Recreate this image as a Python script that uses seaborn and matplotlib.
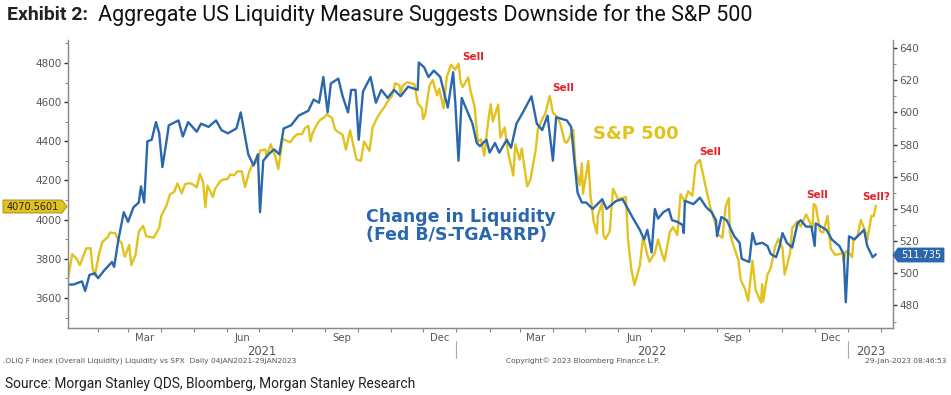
import matplotlib
matplotlib.use("Agg")
import matplotlib.pyplot as plt
import matplotlib.dates as mdates
from matplotlib.patches import Polygon
from matplotlib.ticker import MultipleLocator
import pandas as pd
import seaborn as sns

# S&P 500 (left axis)
spx_dates = [
    "2021-01-04", "2021-01-08", "2021-01-12", "2021-01-15", "2021-01-21", "2021-01-25", "2021-01-27", "2021-01-29",
    "2021-02-02", "2021-02-05", "2021-02-10", "2021-02-12", "2021-02-17", "2021-02-19", "2021-02-23", "2021-02-25", "2021-02-26",
    "2021-03-02", "2021-03-04", "2021-03-08", "2021-03-11", "2021-03-15", "2021-03-18", "2021-03-23", "2021-03-25", "2021-03-30",
    "2021-04-01", "2021-04-06", "2021-04-09", "2021-04-13", "2021-04-16", "2021-04-20", "2021-04-23", "2021-04-27", "2021-04-30",
    "2021-05-04", "2021-05-07", "2021-05-10", "2021-05-12", "2021-05-14", "2021-05-19", "2021-05-21", "2021-05-26", "2021-05-28",
    "2021-06-02", "2021-06-04", "2021-06-08", "2021-06-11", "2021-06-15", "2021-06-18", "2021-06-22", "2021-06-25", "2021-06-30",
    "2021-07-02", "2021-07-07", "2021-07-08", "2021-07-12", "2021-07-16", "2021-07-19", "2021-07-23", "2021-07-27", "2021-07-30",
    "2021-08-03", "2021-08-06", "2021-08-10", "2021-08-13", "2021-08-16", "2021-08-18", "2021-08-20", "2021-08-24", "2021-08-27", "2021-08-31",
    "2021-09-02", "2021-09-07", "2021-09-10", "2021-09-14", "2021-09-17", "2021-09-20", "2021-09-24", "2021-09-28", "2021-09-30",
    "2021-10-04", "2021-10-07", "2021-10-12", "2021-10-15", "2021-10-19", "2021-10-22", "2021-10-26", "2021-10-29",
    "2021-11-02", "2021-11-05", "2021-11-09", "2021-11-10", "2021-11-12", "2021-11-16", "2021-11-19", "2021-11-23", "2021-11-26", "2021-11-30",
    "2021-12-01", "2021-12-03", "2021-12-07", "2021-12-10", "2021-12-14", "2021-12-16", "2021-12-20", "2021-12-23", "2021-12-27", "2021-12-31",
    "2022-01-03", "2022-01-05", "2022-01-07", "2022-01-12", "2022-01-14", "2022-01-18", "2022-01-21", "2022-01-24", "2022-01-27", "2022-01-31",
    "2022-02-02", "2022-02-04", "2022-02-09", "2022-02-11", "2022-02-15", "2022-02-18", "2022-02-23", "2022-02-25",
    "2022-03-01", "2022-03-03", "2022-03-08", "2022-03-11", "2022-03-16", "2022-03-18", "2022-03-22", "2022-03-25", "2022-03-29",
    "2022-04-01", "2022-04-05", "2022-04-08", "2022-04-12", "2022-04-14", "2022-04-20", "2022-04-22", "2022-04-26", "2022-04-28", "2022-04-29",
    "2022-05-04", "2022-05-06", "2022-05-09", "2022-05-12", "2022-05-13", "2022-05-17", "2022-05-18", "2022-05-20", "2022-05-24", "2022-05-27",
    "2022-06-01", "2022-06-03", "2022-06-08", "2022-06-10", "2022-06-13", "2022-06-16", "2022-06-21", "2022-06-24", "2022-06-28", "2022-06-30",
    "2022-07-05", "2022-07-08", "2022-07-12", "2022-07-14", "2022-07-19", "2022-07-22", "2022-07-26", "2022-07-29",
    "2022-08-02", "2022-08-05", "2022-08-09", "2022-08-12", "2022-08-16", "2022-08-19", "2022-08-23", "2022-08-26", "2022-08-30",
    "2022-09-02", "2022-09-06", "2022-09-09", "2022-09-12", "2022-09-13", "2022-09-16", "2022-09-21", "2022-09-23", "2022-09-27", "2022-09-30",
    "2022-10-04", "2022-10-07", "2022-10-12", "2022-10-13", "2022-10-14", "2022-10-18", "2022-10-21", "2022-10-25", "2022-10-28",
    "2022-11-01", "2022-11-03", "2022-11-08", "2022-11-10", "2022-11-15", "2022-11-18", "2022-11-23", "2022-11-29", "2022-11-30",
    "2022-12-02", "2022-12-06", "2022-12-09", "2022-12-13", "2022-12-16", "2022-12-20", "2022-12-22", "2022-12-27", "2022-12-28", "2022-12-30",
    "2023-01-03", "2023-01-05", "2023-01-06", "2023-01-10", "2023-01-13", "2023-01-18", "2023-01-19", "2023-01-23", "2023-01-25", "2023-01-27",
]
spx_values = [
    3700, 3824, 3801, 3768, 3853, 3855, 3750, 3714,
    3826, 3886, 3910, 3934, 3931, 3906, 3881, 3829, 3811,
    3870, 3768, 3821, 3939, 3968, 3915, 3910, 3909, 3958,
    4020, 4074, 4129, 4142, 4185, 4135, 4180, 4187, 4181,
    4165, 4233, 4189, 4063, 4174, 4116, 4156, 4196, 4204,
    4208, 4230, 4227, 4247, 4246, 4166, 4246, 4281, 4298,
    4352, 4358, 4320, 4385, 4327, 4258, 4412, 4402, 4395,
    4423, 4437, 4436, 4468, 4479, 4400, 4442, 4486, 4509, 4523,
    4537, 4520, 4459, 4443, 4433, 4358, 4455, 4353, 4307,
    4300, 4399, 4351, 4471, 4519, 4545, 4575, 4605,
    4631, 4697, 4685, 4646, 4683, 4701, 4698, 4690, 4595, 4567,
    4513, 4538, 4686, 4712, 4634, 4668, 4568, 4725, 4791, 4766,
    4796, 4701, 4677, 4726, 4663, 4577, 4398, 4410, 4326, 4516,
    4589, 4501, 4587, 4419, 4471, 4349, 4225, 4385,
    4306, 4363, 4170, 4204, 4358, 4463, 4512, 4543, 4631,
    4546, 4525, 4488, 4397, 4393, 4459, 4272, 4176, 4287, 4132,
    4300, 4123, 3991, 3930, 4023, 4088, 3923, 3901, 3941, 4158,
    4101, 4109, 4115, 3901, 3750, 3667, 3765, 3912, 3821, 3785,
    3831, 3899, 3819, 3790, 3937, 3962, 3921, 4130,
    4091, 4145, 4122, 4280, 4305, 4228, 4128, 4058, 3986,
    3924, 3908, 4067, 4110, 3932, 3873, 3790, 3693, 3647, 3586,
    3791, 3640, 3577, 3670, 3583, 3720, 3752, 3859, 3901,
    3856, 3720, 3828, 3956, 3992, 3965, 4027, 3958, 4080,
    4072, 3941, 3934, 4019, 3852, 3821, 3822, 3829, 3783, 3840,
    3825, 3808, 3895, 3919, 3999, 3928, 3898, 4020, 4017, 4070.5601,
]

# Change in liquidity, Fed B/S - TGA - RRP (right axis)
liq_dates = [
    "2021-01-04", "2021-01-09", "2021-01-17", "2021-01-20", "2021-01-24", "2021-01-29", "2021-02-01", "2021-02-07",
    "2021-02-14", "2021-02-16", "2021-02-20", "2021-02-25", "2021-03-01", "2021-03-06", "2021-03-11", "2021-03-13",
    "2021-03-16", "2021-03-19", "2021-03-23", "2021-03-27", "2021-03-30", "2021-04-02", "2021-04-06", "2021-04-08",
    "2021-04-17", "2021-04-21", "2021-04-26", "2021-05-04", "2021-05-08", "2021-05-15", "2021-05-22", "2021-05-27",
    "2021-06-02", "2021-06-10", "2021-06-14", "2021-06-17", "2021-06-21", "2021-06-26", "2021-06-30", "2021-07-02",
    "2021-07-05", "2021-07-10", "2021-07-15", "2021-07-20", "2021-07-24", "2021-07-31", "2021-08-07", "2021-08-16",
    "2021-08-21", "2021-08-26", "2021-08-30", "2021-09-03", "2021-09-06", "2021-09-13", "2021-09-17", "2021-09-22",
    "2021-09-25", "2021-09-29", "2021-10-02", "2021-10-06", "2021-10-13", "2021-10-18", "2021-10-23", "2021-10-29",
    "2021-11-04", "2021-11-10", "2021-11-17", "2021-11-26", "2021-11-27", "2021-12-02", "2021-12-06", "2021-12-11",
    "2021-12-17", "2021-12-24", "2021-12-29", "2021-12-31", "2022-01-03", "2022-01-06", "2022-01-11", "2022-01-16",
    "2022-01-20", "2022-01-23", "2022-01-29", "2022-02-01", "2022-02-06", "2022-02-10", "2022-02-17", "2022-02-21",
    "2022-02-26", "2022-03-04", "2022-03-12", "2022-03-17", "2022-03-22", "2022-03-27", "2022-04-01", "2022-04-04",
    "2022-04-14", "2022-04-18", "2022-04-21", "2022-04-24", "2022-04-28", "2022-05-02", "2022-05-08", "2022-05-17",
    "2022-05-21", "2022-05-30", "2022-06-05", "2022-06-14", "2022-06-21", "2022-06-25", "2022-06-28", "2022-07-02",
    "2022-07-05", "2022-07-08", "2022-07-13", "2022-07-18", "2022-07-21", "2022-07-26", "2022-07-31", "2022-08-01",
    "2022-08-02", "2022-08-10", "2022-08-16", "2022-08-22", "2022-08-27", "2022-08-31", "2022-09-01", "2022-09-05",
    "2022-09-10", "2022-09-17", "2022-09-22", "2022-09-24", "2022-10-01", "2022-10-04", "2022-10-07", "2022-10-13",
    "2022-10-18", "2022-10-21", "2022-10-26", "2022-10-29", "2022-11-01", "2022-11-05", "2022-11-10", "2022-11-15",
    "2022-11-18", "2022-11-23", "2022-11-28", "2022-12-01", "2022-12-02", "2022-12-07", "2022-12-12", "2022-12-17",
    "2022-12-24", "2022-12-28", "2022-12-30", "2023-01-02", "2023-01-07", "2023-01-13", "2023-01-16", "2023-01-19",
    "2023-01-24", "2023-01-27",
]
liq_values = [
    493, 493, 495, 489, 499, 500, 497, 502,
    507, 504, 521, 538, 532, 541, 544, 554,
    544, 582, 583, 594, 587, 566, 583, 592,
    595, 585, 594, 588, 593, 591, 595, 589,
    587, 590, 600, 589, 574, 567, 574, 538,
    570, 574, 577, 574, 590, 592, 598, 601,
    608, 606, 622, 600, 618, 621, 610, 600,
    614, 614, 583, 613, 622, 606, 614, 609,
    614, 610, 616, 614, 631, 628, 622, 626,
    622, 603, 625, 606, 570, 609, 601, 593,
    581, 579, 583, 575, 581, 575, 583, 578,
    593, 600, 610, 593, 589, 598, 570, 597,
    595, 591, 570, 550, 544, 544, 540, 546,
    540, 545, 546, 535, 527, 521, 527, 513,
    540, 534, 538, 540, 533, 532, 530, 525,
    545, 543, 547, 541, 538, 533, 523, 535,
    533, 523, 519, 509, 507, 525, 518, 519,
    517, 512, 510, 516, 525, 519, 516, 531,
    533, 529, 529, 517, 531, 529, 527, 521,
    517, 512, 482, 523, 521, 525, 527, 517,
    510, 511.735,
]

spx = pd.DataFrame({"date": pd.to_datetime(spx_dates), "value": spx_values})
liq = pd.DataFrame({"date": pd.to_datetime(liq_dates), "value": liq_values})

YELLOW = "#E2C21E"
BLUE = "#2A67AD"
RED = "#E8202A"
GREY = "#555555"

sns.set_style("white")
plt.rcParams["font.family"] = ["DejaVu Sans"]

fig = plt.figure(figsize=(9.51, 3.95), dpi=100)
ax = fig.add_axes([68 / 951, 1 - 328 / 395, (893 - 68) / 951, (328 - 40) / 395])
ax2 = ax.twinx()

sns.lineplot(data=spx, x="date", y="value", ax=ax, color=YELLOW, lw=1.7)
sns.lineplot(data=liq, x="date", y="value", ax=ax2, color=BLUE, lw=1.7)

ax.set_xlim(pd.Timestamp("2021-01-04"), pd.Timestamp("2023-02-12"))
ax.set_ylim(3447, 4917)
ax2.set_ylim(466, 645)

for a in (ax, ax2):
    a.set_xlabel("")
    a.set_ylabel("")
    a.spines["top"].set_visible(False)
    for s in ("left", "right", "bottom"):
        a.spines[s].set_color("#8a8a8a")
        a.spines[s].set_linewidth(0.9)

ax.set_yticks(range(3600, 4801, 200))
ax.yaxis.set_minor_locator(MultipleLocator(100))
ax2.set_yticks(range(480, 641, 20))
ax2.yaxis.set_minor_locator(MultipleLocator(10))

ax.tick_params(axis="y", which="major", direction="out", length=3, width=1, color="#333333",
               labelsize=7.5, labelcolor=GREY, pad=1.5, left=True)
ax.tick_params(axis="y", which="minor", direction="out", length=2, width=0.7, color="#888888", left=True)
ax2.tick_params(axis="y", which="major", direction="out", length=3, width=1, color="#333333",
                labelsize=7.5, labelcolor=GREY, pad=1.5, right=True)
ax2.tick_params(axis="y", which="minor", direction="out", length=2, width=0.7, color="#888888", right=True)

# monthly ticks, labels placed by hand in the middle of each month
months = pd.date_range("2021-02-01", "2023-02-01", freq="MS")
ax.set_xticks(months)
ax.set_xticklabels([])
ax.tick_params(axis="x", which="major", direction="out", length=3, width=0.8, color="#888888", bottom=True)
ax.xaxis.set_minor_locator(mdates.MonthLocator(bymonthday=1))
ax.tick_params(axis="x", which="minor", length=0)

xtr = ax.get_xaxis_transform()
for m in pd.date_range("2021-03-01", "2022-12-01", freq="3MS"):
    ax.text(m + pd.Timedelta(days=15), -0.035, m.strftime("%b"), transform=xtr,
            ha="center", va="center", fontsize=7.3, color=GREY)
for label, mid in [("2021", "2021-07-04"), ("2022", "2022-07-02"), ("2023", "2023-01-22")]:
    ax.text(pd.Timestamp(mid), -0.082, label, transform=xtr, ha="center", va="center",
            fontsize=8.3, color=GREY)
for sep in ["2022-01-01", "2023-01-01"]:
    ax.plot([pd.Timestamp(sep)] * 2, [-0.045, -0.105], transform=xtr, color="#aaaaaa",
            lw=0.8, clip_on=False)


def px(x, y):
    return (x / 100, (395 - y) / 100)


# annotations
txt_kw = dict(fontsize=7.5, color=RED, fontweight="bold", ha="center", va="center",
              transform=fig.dpi_scale_trans)
for (x, y, s) in [(473, 57, "Sell"), (563, 88, "Sell"), (710, 152, "Sell"),
                  (817, 195, "Sell"), (876, 197, "Sell?")]:
    fig.text(*px(x, y), s, **txt_kw)

fig.text(*px(593, 134), "S&P 500", transform=fig.dpi_scale_trans, fontsize=13,
         fontweight="bold", color=YELLOW, ha="left", va="center")
fig.text(*px(366, 226), "Change in Liquidity\n(Fed B/S-TGA-RRP)", transform=fig.dpi_scale_trans,
         fontsize=12.5, fontweight="bold", color=BLUE, ha="left", va="center", linespacing=0.98)

# last-value tags
left_tag = [px(3, 200), px(62, 200), px(67, 206.5), px(62, 213), px(3, 213)]
fig.patches.append(Polygon(left_tag, closed=True, transform=fig.dpi_scale_trans,
                           facecolor=YELLOW, edgecolor="#9a8410", lw=0.6))
fig.text(*px(33, 206.5), "4070.5601", transform=fig.dpi_scale_trans, fontsize=7,
         color="#222222", ha="center", va="center")
right_tag = [px(893, 255), px(898, 248), px(944, 248), px(944, 262), px(898, 262)]
fig.patches.append(Polygon(right_tag, closed=True, transform=fig.dpi_scale_trans,
                           facecolor=BLUE, edgecolor=BLUE, lw=0.6))
fig.text(*px(921, 255), "511.735", transform=fig.dpi_scale_trans, fontsize=7,
         color="white", ha="center", va="center")

# title and footers
fig.text(*px(7, 15), "Exhibit 2:", transform=fig.dpi_scale_trans, fontsize=14,
         fontweight="bold", family="Roboto", color="#222222", ha="left", va="center")
fig.text(*px(98, 15), "Aggregate US Liquidity Measure Suggests Downside for the S&P 500",
         transform=fig.dpi_scale_trans, fontsize=15.5, family="Roboto", color="#111111",
         ha="left", va="center")

foot_kw = dict(transform=fig.dpi_scale_trans, fontsize=5.4, color="#555555", va="center")
fig.text(*px(3, 361), ".OLIQ F Index (Overall Liquidity) Liquidity vs SPX  Daily 04JAN2021-29JAN2023",
         ha="left", **foot_kw)
fig.text(*px(583, 361), "Copyright\u00a9 2023 Bloomberg Finance L.P.", ha="center", **foot_kw)
fig.text(*px(946, 361), "29-Jan-2023 08:46:53", ha="right", **foot_kw)
fig.text(*px(5, 384), "Source: Morgan Stanley QDS, Bloomberg, Morgan Stanley Research",
         transform=fig.dpi_scale_trans, fontsize=9.9, family="Roboto", color="#222222",
         ha="left", va="center")

fig.savefig("out.png", dpi=100)
